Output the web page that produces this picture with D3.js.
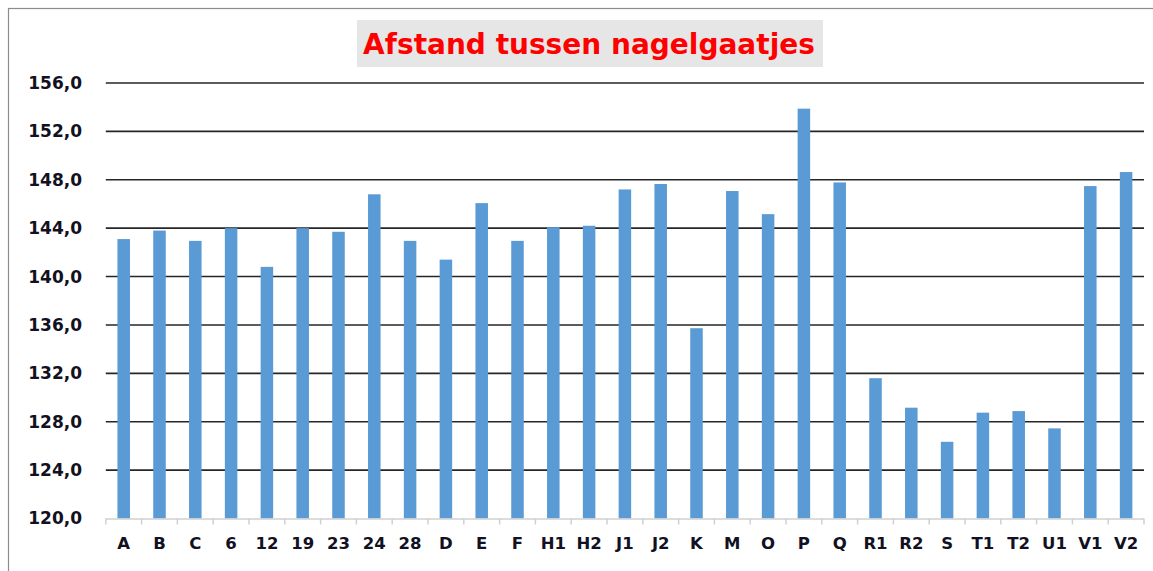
<!DOCTYPE html>
<html>
<head>
<meta charset="utf-8">
<script src="https://cdn.jsdelivr.net/npm/d3@7"></script>
<style>
  html, body { margin: 0; padding: 0; background: #fff; }
  svg { display: block; }
  text { font-family: "DejaVu Sans", Verdana, sans-serif; font-weight: bold; }
</style>
</head>
<body>
<svg id="chart" width="1153" height="571"></svg>
<script>
// Distances between nail holes per location
const categories = ["A","B","C","6","12","19","23","24","28","D","E","F","H1","H2","J1","J2","K","M","O","P","Q","R1","R2","S","T1","T2","U1","V1","V2"];
const values = [143.1,143.8,142.95,144.0,140.8,144.0,143.7,146.8,142.95,141.4,146.07,142.95,144.08,144.2,147.2,147.65,135.73,147.07,145.16,153.88,147.78,131.6,129.16,126.34,128.75,128.88,127.45,147.48,148.64];
const yTicks = [120,124,128,132,136,140,144,148,152,156];
const title = "Afstand tussen nagelgaatjes";

const svg = d3.select("#chart");
const W = 1153, H = 571;
const plot = { left: 105.8, right: 1144, top: 83, bottom: 518.5 };

// chart frame
svg.append("rect")
  .attr("x", 8.5).attr("y", 8.5)
  .attr("width", W + 20).attr("height", H + 20)
  .attr("fill", "#fff").attr("stroke", "#8c8c8c").attr("stroke-width", 1.2);

const x = d3.scaleBand().domain(categories).range([plot.left, plot.right]).paddingInner(0.65).paddingOuter(0.325);
const y = d3.scaleLinear().domain([120, 156]).range([plot.bottom, plot.top]);

// horizontal gridlines
svg.append("g")
  .selectAll("line")
  .data(yTicks.filter(t => t > 120))
  .join("line")
  .attr("x1", plot.left).attr("x2", plot.right)
  .attr("y1", d => y(d)).attr("y2", d => y(d))
  .attr("stroke", "#262626").attr("stroke-width", 1.6);

// bars
svg.append("g")
  .selectAll("rect")
  .data(categories.map((c, i) => ({ c, v: values[i] })))
  .join("rect")
  .attr("x", d => x(d.c))
  .attr("width", x.bandwidth())
  .attr("y", d => y(d.v))
  .attr("height", d => y(120) - y(d.v))
  .attr("fill", "#5b9bd5");

// y axis labels
const yAxis = d3.axisLeft(y)
  .tickValues(yTicks)
  .tickSize(0)
  .tickPadding(0)
  .tickFormat(d => d3.format(".1f")(d).replace(".", ","));
const gy = svg.append("g").attr("transform", `translate(82,0)`).call(yAxis);
gy.select(".domain").remove();
gy.selectAll("text")
  .attr("font-size", 17).attr("fill", "#111122")
  .style("font-family", "'DejaVu Sans', Verdana, sans-serif").style("font-weight", "bold");

// x axis: light baseline with boundary ticks
const gx = svg.append("g");
gx.append("line")
  .attr("x1", plot.left).attr("x2", plot.right)
  .attr("y1", plot.bottom + 0.5).attr("y2", plot.bottom + 0.5)
  .attr("stroke", "#d0d0d0").attr("stroke-width", 1.5);
const step = x.step();
const boundaries = categories.map(c => x(c) - x.paddingInner() * step / 2);
boundaries.push(plot.right);
gx.selectAll("line.tick")
  .data(boundaries)
  .join("line")
  .attr("class", "tick")
  .attr("x1", d => d).attr("x2", d => d)
  .attr("y1", plot.bottom).attr("y2", plot.bottom + 6)
  .attr("stroke", "#d0d0d0").attr("stroke-width", 1.5);
gx.selectAll("text")
  .data(categories)
  .join("text")
  .attr("x", d => x(d) + x.bandwidth() / 2)
  .attr("y", 549)
  .attr("text-anchor", "middle")
  .attr("font-size", 16.5)
  .attr("fill", "#111122")
  .text(d => d);

// title box
svg.append("rect")
  .attr("x", 357).attr("y", 20).attr("width", 466).attr("height", 47)
  .attr("fill", "#e6e6e6");
svg.append("text")
  .attr("x", 589).attr("y", 54)
  .attr("text-anchor", "middle")
  .attr("font-size", 28)
  .attr("fill", "#ff0000")
  .text(title);
</script>
</body>
</html>
